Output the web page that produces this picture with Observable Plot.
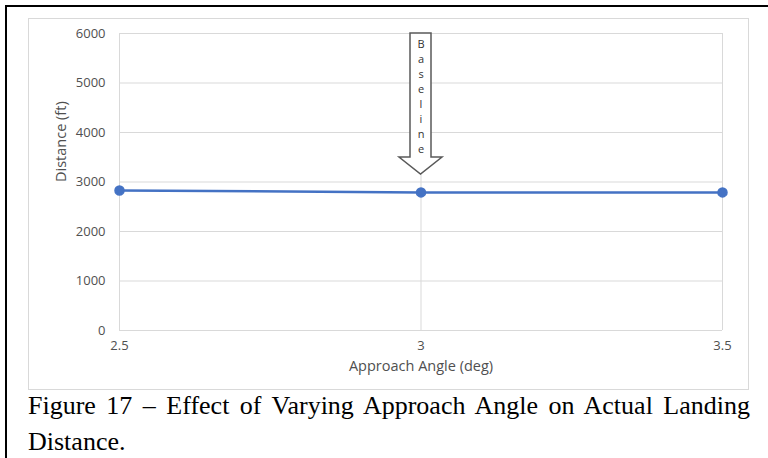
<!DOCTYPE html>
<html>
<head>
<meta charset="utf-8">
<script src="https://cdn.jsdelivr.net/npm/d3@7"></script>
<script src="https://cdn.jsdelivr.net/npm/@observablehq/plot@0.6"></script>
<style>
  html, body { margin: 0; padding: 0; background: #fff; }
  body { width: 768px; height: 458px; overflow: hidden; position: relative; }
  #frame { position: absolute; left: 5px; top: 5px; width: 820px; height: 520px;
           border-left: 2px solid #000; border-top: 2px solid #000; }
  #box { position: absolute; left: 28px; top: 18px; width: 721px; height: 372px;
         border: 1px solid #d9d9d9; box-sizing: border-box; }
  #box svg { display: block; }
  #caption { position: absolute; left: 28px; top: 388px; width: 722px;
             font-family: "Liberation Serif", "Times New Roman", serif; font-size: 26px;
             line-height: 36px; color: #000; text-align: justify; }
</style>
</head>
<body>
<div id="frame"></div>
<div id="box"></div>
<div id="caption">Figure 17 – Effect of Varying Approach Angle on Actual Landing Distance.</div>
<script>
const angles = [2.5, 3, 3.5];
const distances = [2830, 2790, 2790];
const xTicks = [2.5, 3, 3.5];
const xTickLabels = ["2.5", "3", "3.5"];
const yTicks = [0, 1000, 2000, 3000, 4000, 5000, 6000];
const xTitle = "Approach Angle (deg)";
const yTitle = "Distance (ft)";
const baselineAngle = 3;
const baselineText = "Baseline";

const data = angles.map((a, i) => ({angle: a, distance: distances[i]}));
const font = "'Open Sans', Lato, sans-serif";
const grid = "#d9d9d9";
const lineColor = "#4472C4";
const textColor = "#505050";

function arrow(index, scales) {
  const cx = scales.x(baselineAngle);
  const top = scales.y(6000);
  const shaftBottom = top + 124;
  const tip = top + 141;
  const sw = 10.5, hw = 21.5;
  const pts = [[cx - sw, top], [cx + sw, top], [cx + sw, shaftBottom], [cx + hw, shaftBottom],
               [cx, tip], [cx - hw, shaftBottom], [cx - sw, shaftBottom]];
  return d3.create("svg:path")
    .attr("d", "M" + pts.map(p => p.join(",")).join("L") + "Z")
    .attr("fill", "#fff")
    .attr("stroke", "#595959")
    .attr("stroke-width", 1.5)
    .node();
}

const chart = Plot.plot({
  width: 719,
  height: 370,
  marginLeft: 90,
  marginRight: 26,
  marginTop: 14,
  marginBottom: 59,
  style: {fontFamily: font, fontSize: "13px", color: textColor, background: "#fff"},
  x: {domain: [2.5, 3.5], ticks: xTicks},
  y: {domain: [0, 6000], ticks: yTicks},
  marks: [
    Plot.gridY(yTicks, {stroke: grid, strokeOpacity: 1}),
    Plot.gridX(xTicks, {stroke: grid, strokeOpacity: 1}),
    Plot.axisY(yTicks, {tickSize: 0, tickPadding: 14, label: null, fill: textColor, fontSize: 13,
                        tickFormat: d => String(d)}),
    Plot.axisX(xTicks, {tickSize: 0, tickPadding: 10, label: null, fill: textColor, fontSize: 13,
                        tickFormat: (d) => xTickLabels[xTicks.indexOf(d)]}),
    Plot.text([yTitle], {frameAnchor: "left", dx: -58, rotate: -90, text: d => d,
                         fill: textColor, fontSize: 14.5, lineAnchor: "middle"}),
    Plot.text([xTitle], {frameAnchor: "bottom", dy: 36, text: d => d,
                         fill: textColor, fontSize: 14.5, lineAnchor: "middle"}),
    Plot.line(data, {x: "angle", y: "distance", stroke: lineColor, strokeWidth: 2.5}),
    Plot.dot(data, {x: "angle", y: "distance", r: 4.5, fill: lineColor, stroke: lineColor}),
    arrow,
    Plot.text([baselineText], {x: () => baselineAngle, y: () => 6000,
                               text: d => d.split("").join("\n"),
                               lineAnchor: "top", dy: 4, lineHeight: 1.36,
                               fontSize: 11, fill: "#333"})
  ]
});
document.getElementById("box").appendChild(chart);
</script>
</body>
</html>
